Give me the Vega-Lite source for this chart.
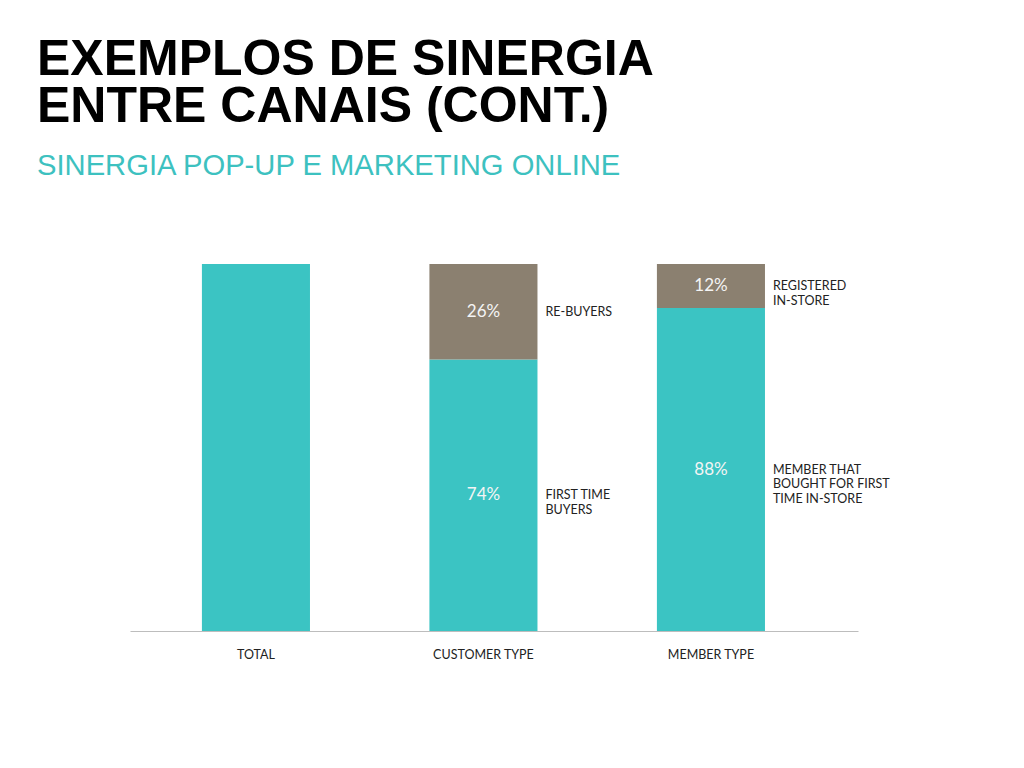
{
  "$schema": "https://vega.github.io/schema/vega-lite/v6.json",
  "width": 728,
  "height": 367,
  "autosize": {"type": "none"},
  "padding": {"left": 130, "top": 264, "right": 166, "bottom": 137},
  "background": "white",
  "title": {
    "text": ["EXEMPLOS DE SINERGIA", "ENTRE CANAIS (CONT.)"],
    "font": "Liberation Sans",
    "fontWeight": "bold",
    "fontSize": 50,
    "lineHeight": 47,
    "color": "#000000",
    "anchor": "start",
    "dx": -93,
    "offset": 83,
    "subtitle": "SINERGIA POP-UP E MARKETING ONLINE",
    "subtitleFont": "Liberation Sans",
    "subtitleFontSize": 29.2,
    "subtitleColor": "#3DC1C0",
    "subtitlePadding": 20
  },
  "data": {
    "values": [
      {"category": "TOTAL", "segment": "Total", "tone": "teal", "rank": 0, "value": 100, "label": "", "side": ""},
      {"category": "CUSTOMER TYPE", "segment": "First time buyers", "tone": "teal", "rank": 0, "value": 74, "label": "74%", "side": "FIRST TIME\nBUYERS"},
      {"category": "CUSTOMER TYPE", "segment": "Re-buyers", "tone": "taupe", "rank": 1, "value": 26, "label": "26%", "side": "RE-BUYERS"},
      {"category": "MEMBER TYPE", "segment": "Member that bought for first time in-store", "tone": "teal", "rank": 0, "value": 88, "label": "88%", "side": "MEMBER THAT\nBOUGHT FOR FIRST\nTIME IN-STORE"},
      {"category": "MEMBER TYPE", "segment": "Registered in-store", "tone": "taupe", "rank": 1, "value": 12, "label": "12%", "side": "REGISTERED\nIN-STORE"}
    ]
  },
  "transform": [
    {"stack": "value", "groupby": ["category"], "sort": [{"field": "rank", "order": "ascending"}], "as": ["y0", "y1"]},
    {"calculate": "(datum.y0 + datum.y1) / 2", "as": "mid"}
  ],
  "encoding": {
    "x": {
      "field": "category",
      "type": "nominal",
      "sort": ["TOTAL", "CUSTOMER TYPE", "MEMBER TYPE"],
      "scale": {"paddingInner": 0.525, "paddingOuter": 0.3625, "align": 0.436},
      "axis": {
        "title": null,
        "labelAngle": 0,
        "domainColor": "#bdbdbd",
        "domainWidth": 1,
        "ticks": false,
        "tickSize": 0,
        "labelFont": "Lato",
        "labelFontSize": 12.5,
        "labelColor": "#222222",
        "labelPadding": 17
      }
    }
  },
  "layer": [
    {
      "mark": {"type": "bar"},
      "encoding": {
        "y": {"field": "y0", "type": "quantitative", "scale": {"domain": [0, 100]}, "axis": null},
        "y2": {"field": "y1"},
        "color": {"field": "tone", "type": "nominal", "scale": {"domain": ["teal", "taupe"], "range": ["#3BC4C3", "#8B8070"]}, "legend": null}
      }
    },
    {
      "transform": [{"filter": "datum.label != ''"}],
      "mark": {"type": "text", "font": "Lato", "fontSize": 17, "color": "#F4F4F4", "align": "center", "baseline": "middle"},
      "encoding": {
        "y": {"field": "mid", "type": "quantitative", "scale": {"domain": [0, 100]}, "axis": null},
        "text": {"field": "label"}
      }
    },
    {
      "transform": [{"filter": "datum.side != ''"}],
      "mark": {"type": "text", "font": "Lato", "fontSize": 12.5, "color": "#222222", "align": "left", "baseline": "middle", "dx": 62, "lineBreak": "\n", "lineHeight": 14.5},
      "encoding": {
        "y": {"field": "mid", "type": "quantitative", "scale": {"domain": [0, 100]}, "axis": null},
        "text": {"field": "side"}
      }
    }
  ],
  "config": {
    "view": {"stroke": null},
    "axis": {"grid": false}
  }
}
